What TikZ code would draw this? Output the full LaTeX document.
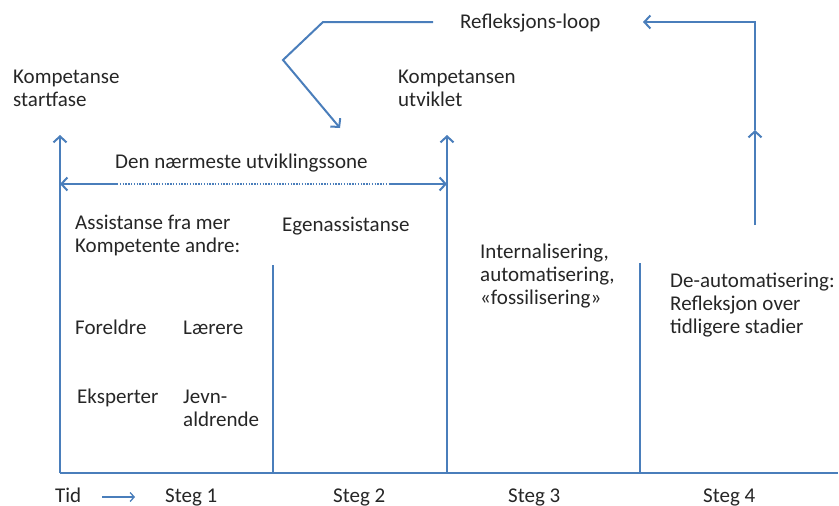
\documentclass[tikz,border=0pt]{standalone}
\usepackage{fontspec}
\setmainfont{Carlito}
\usetikzlibrary{arrows.meta}
\definecolor{lineblue}{HTML}{4A7EBB}
\definecolor{txt}{HTML}{262626}
\begin{document}
\begin{tikzpicture}[x=1pt,y=-1pt,
  lbl/.style={anchor=base west,inner sep=0pt,align=left,text=txt,font=\fontsize{21}{23}\selectfont},
  ln/.style={draw=lineblue,line width=2pt},
  thin/.style={draw=lineblue,line width=1.5pt},
  tip/.style={-{Straight Barb[length=6pt,width=13pt]}}]
\useasboundingbox (0,0) rectangle (839,506);
% coordinates
\coordinate (o1) at (60,473);
\coordinate (a1) at (60,135);
\coordinate (bR) at (838,473);
\coordinate (v1b) at (273,473); \coordinate (v1t) at (273,265);
\coordinate (v2b) at (447,473); \coordinate (v2t) at (447,135);
\coordinate (v3b) at (640,473); \coordinate (v3t) at (640,263);
\coordinate (r0) at (755,225); \coordinate (rmid) at (755,130);
\coordinate (rtop) at (755,22); \coordinate (rend) at (643,22);
\coordinate (l0) at (433,22); \coordinate (l1) at (323,22);
\coordinate (l2) at (283,60); \coordinate (l3) at (340,128);
\coordinate (dL) at (60,184); \coordinate (d1) at (117,184);
\coordinate (d2) at (390,184); \coordinate (dR) at (447,184);
\coordinate (t0) at (102,497); \coordinate (t1) at (135,497);
% axes and dividers
\draw[ln] (o1) -- (bR);
\draw[ln,tip] (o1) -- (a1);
\draw[ln,tip] (v2b) -- (v2t);
\draw[thin] (v1b) -- (v1t);
\draw[thin] (v3b) -- (v3t);
% zone double arrow
\draw[ln,tip] (d1) -- (dL);
\draw[draw=lineblue,line width=1.6pt,dash pattern=on 1.4pt off 1.4pt] (d1) -- (d2);
\draw[ln,tip] (d2) -- (dR);
% reflection loop
\draw[ln,tip] (r0) -- (rmid);
\draw[ln,tip] (rmid) -- (rtop) -- (rend);
\draw[ln,tip] (l0) -- (l1) -- (l2) -- (l3);
% time arrow
\draw[draw=lineblue,line width=1.3pt,-{Straight Barb[length=4pt,width=9pt]}] (t0) -- (t1);
% labels (anchor = baseline of last line)
\node[lbl] (ks) at (13,106) {Kompetanse\\startfase};
\node[lbl] (ku) at (398,106) {Kompetansen\\utviklet};
\node[lbl] (rl) at (460,28) {Refleksjons-loop};
\node[lbl] (zone) at (115,168) {Den nærmeste utviklingssone};
\node[lbl] (ass) at (75,252) {Assistanse fra mer\\Kompetente andre:};
\node[lbl] (ega) at (282,231) {Egenassistanse};
\node[lbl] (int) at (480,304) {Internalisering,\\automatisering,\\«fossilisering»};
\node[lbl] (dea) at (670,333) {De-automatisering:\\Refleksjon over\\tidligere stadier};
\node[lbl] (for) at (75,334) {Foreldre};
\node[lbl] (lae) at (183,334) {Lærere};
\node[lbl] (eks) at (77,403) {Eksperter};
\node[lbl] (jev) at (183,426) {Jevn-\\aldrende};
\node[lbl] (tid) at (55,502) {Tid};
\node[lbl] (s1) at (165,502) {Steg 1};
\node[lbl] (s2) at (333,502) {Steg 2};
\node[lbl] (s3) at (508,502) {Steg 3};
\node[lbl] (s4) at (703,502) {Steg 4};
\end{tikzpicture}
\end{document}
